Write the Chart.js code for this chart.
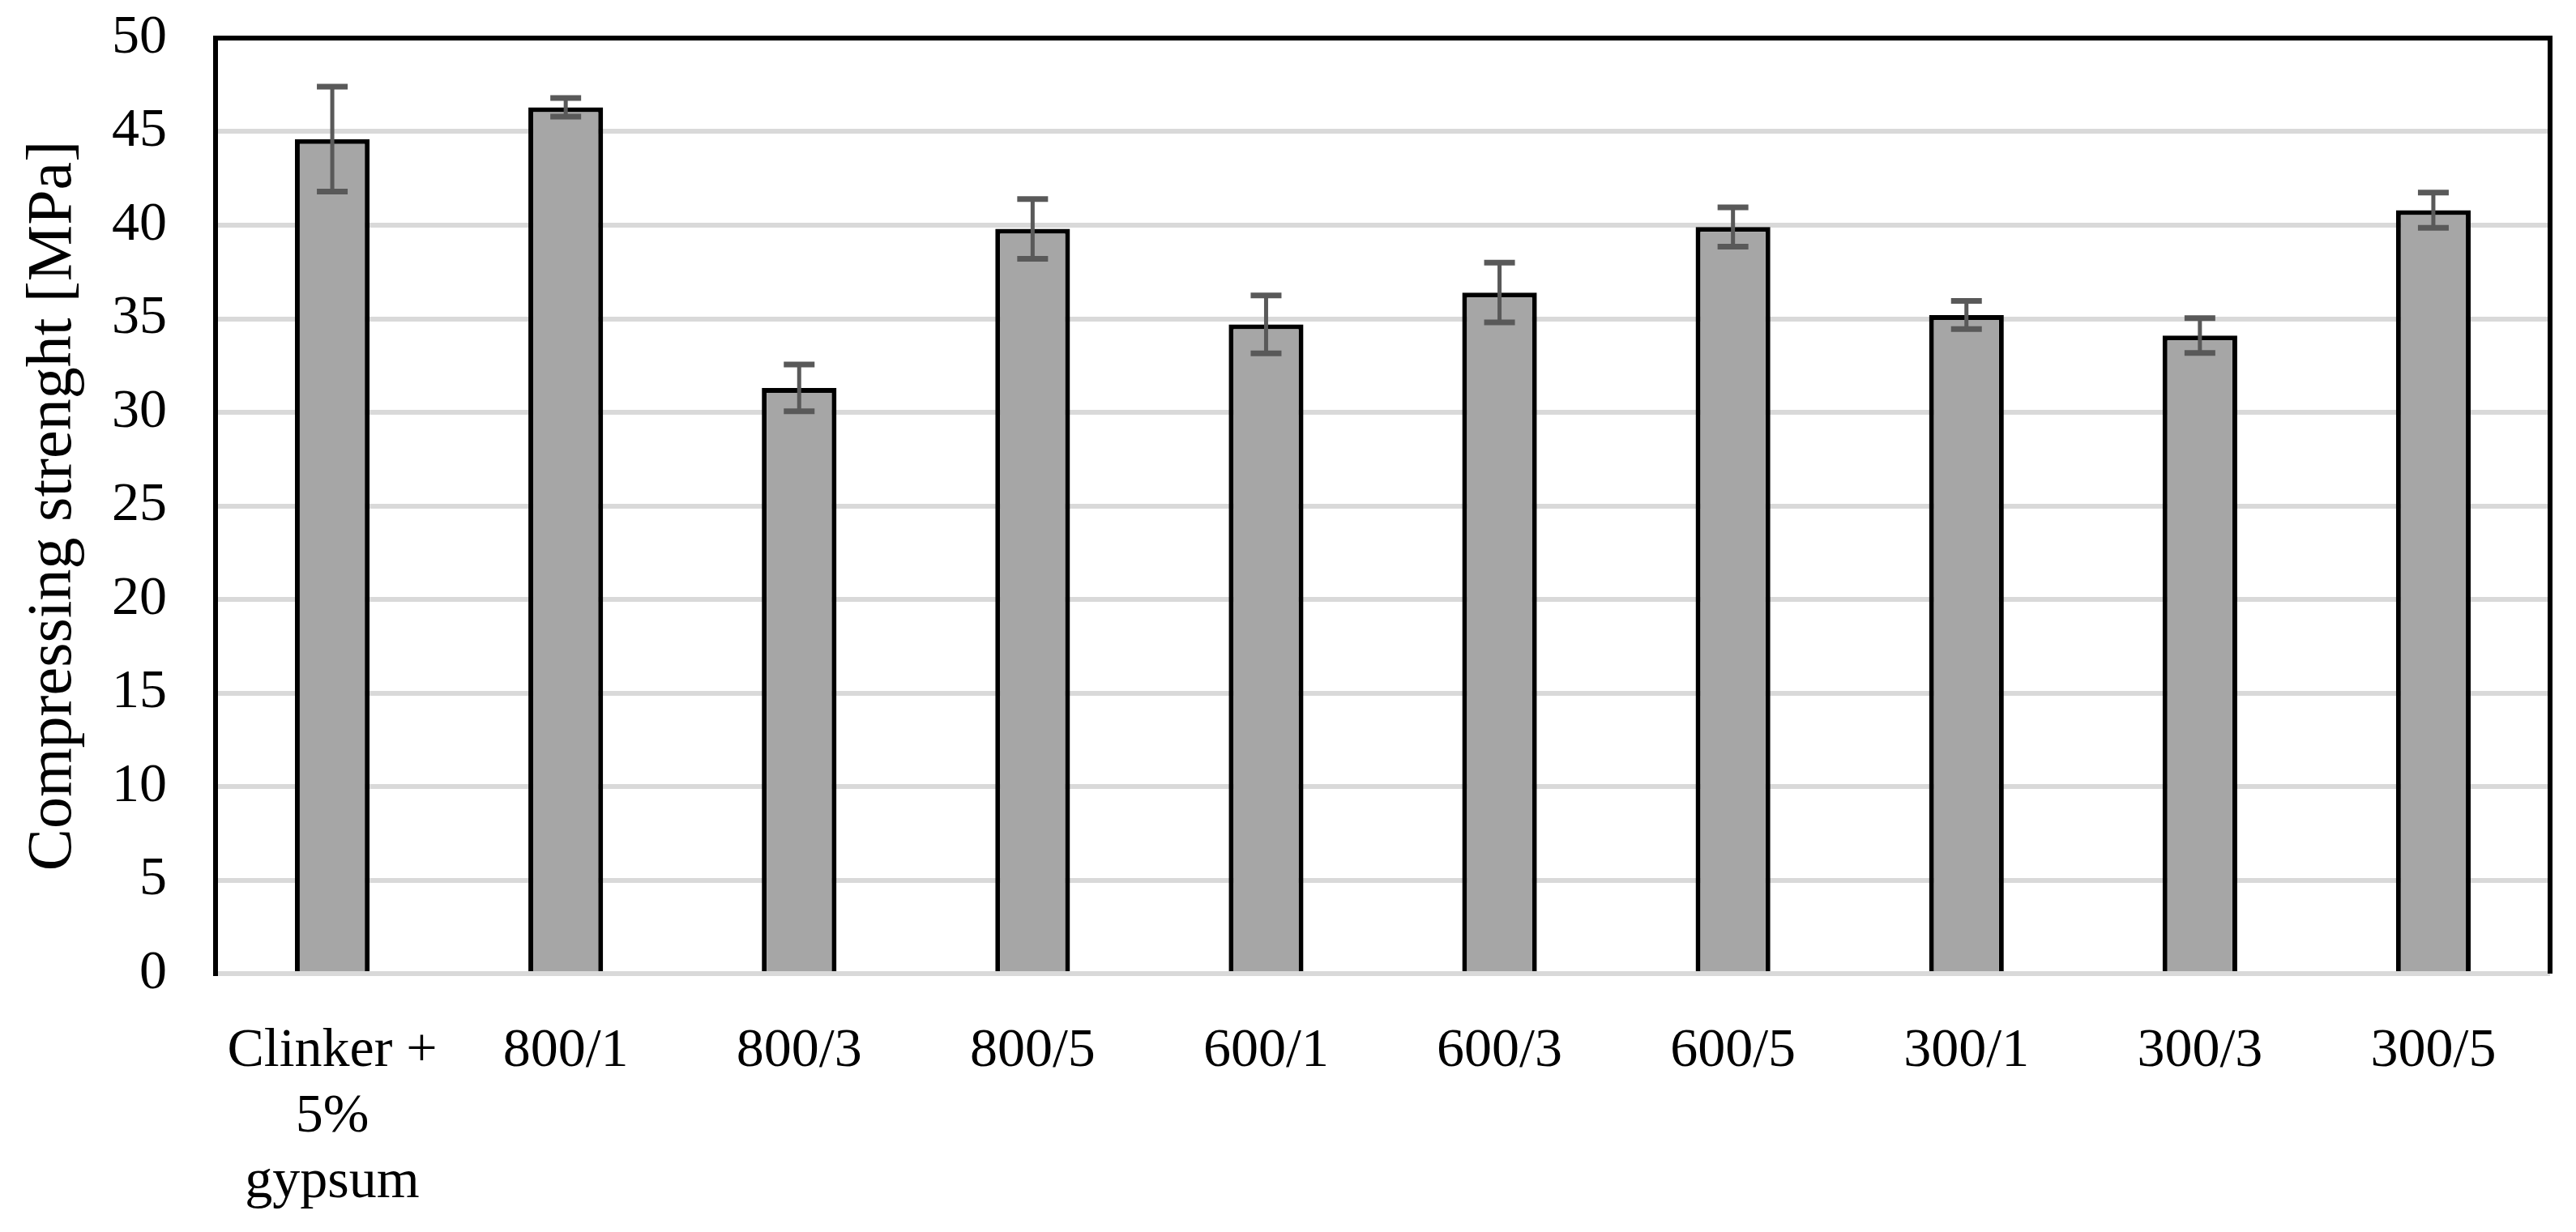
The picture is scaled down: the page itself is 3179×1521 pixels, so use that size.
<!DOCTYPE html>
<html>
<head>
<meta charset="utf-8">
<script src="https://cdn.jsdelivr.net/npm/chart.js@4.4.1/dist/chart.umd.min.js"></script>
<style>
    body { margin: 0; background: #fff; }
    #contenedor { width: 3179px; height: 1521px; position: relative; }
</style>
</head>
<body>
<div id="contenedor"><canvas id="graficoResistencia"></canvas></div>
<script>
// Datos
const categorias = [['Clinker +', '5%', 'gypsum'], '800/1', '800/3', '800/5', '600/1', '600/3', '600/5', '300/1', '300/3', '300/5'];
const resistencia = [44.6, 46.3, 31.3, 39.8, 34.7, 36.4, 39.9, 35.2, 34.1, 40.8];
const desviacion = [2.8, 0.5, 1.25, 1.6, 1.55, 1.6, 1.05, 0.75, 0.93, 0.94];
const ticksY = [0, 5, 10, 15, 20, 25, 30, 35, 40, 45, 50];

const fuente = 'Liberation Serif, Times New Roman, serif';

/**
 * Dibuja las barras de error sobre cada columna
 */
const barrasError = {
    id: 'barrasError',
    afterDatasetsDraw(chart) {
        const ctx = chart.ctx;
        const escalaY = chart.scales.y;
        const meta = chart.getDatasetMeta(0);
        ctx.save();
        ctx.strokeStyle = '#595959';
        meta.data.forEach((barra, i) => {
            const x = barra.x;
            const arriba = escalaY.getPixelForValue(resistencia[i] + desviacion[i]);
            const abajo = escalaY.getPixelForValue(resistencia[i] - desviacion[i]);
            const mitad = 19;
            ctx.lineWidth = 5;
            ctx.beginPath();
            ctx.moveTo(x, arriba);
            ctx.lineTo(x, abajo);
            ctx.stroke();
            ctx.lineWidth = 7;
            ctx.beginPath();
            ctx.moveTo(x - mitad, arriba);
            ctx.lineTo(x + mitad, arriba);
            ctx.moveTo(x - mitad, abajo);
            ctx.lineTo(x + mitad, abajo);
            ctx.stroke();
        });
        ctx.restore();
    }
};

/**
 * Marco negro arriba y a la derecha del area del grafico
 */
const marco = {
    id: 'marco',
    afterDraw(chart) {
        const { left, right, top, bottom } = chart.chartArea;
        const ctx = chart.ctx;
        ctx.save();
        ctx.strokeStyle = '#000';
        ctx.lineWidth = 6;
        ctx.beginPath();
        ctx.moveTo(left - 3, top);
        ctx.lineTo(right, top);
        ctx.lineTo(right, bottom);
        ctx.stroke();
        ctx.restore();
    }
};

const ctx = document.getElementById('graficoResistencia').getContext('2d');
new Chart(ctx, {
    type: 'bar',
    data: {
        labels: categorias,
        datasets: [{
            data: resistencia,
            backgroundColor: '#a6a6a6',
            borderColor: '#000',
            borderWidth: 6,
            barPercentage: 0.32,
            categoryPercentage: 1
        }]
    },
    options: {
        responsive: true,
        maintainAspectRatio: false,
        devicePixelRatio: 1,
        animation: false,
        layout: {
            padding: { left: 0, right: 32, top: 47, bottom: 0 }
        },
        plugins: {
            legend: { display: false },
            tooltip: { enabled: false }
        },
        scales: {
            x: {
                grid: { display: false, drawTicks: false },
                border: { display: false },
                ticks: {
                    color: '#000',
                    padding: 56,
                    maxRotation: 0,
                    autoSkip: false,
                    font: { family: fuente, size: 68, lineHeight: 1.19 }
                },
                afterFit(scale) {
                    scale.height = 319;
                    scale.paddingTop = 0;
                    scale.paddingBottom = 0;
                }
            },
            y: {
                min: 0,
                max: 50,
                afterBuildTicks(scale) {
                    scale.ticks = ticksY.map(v => ({ value: v }));
                },
                grid: { color: '#d9d9d9', lineWidth: 6, drawTicks: false },
                border: { display: true, color: '#000', width: 6 },
                ticks: {
                    color: '#000',
                    padding: 60,
                    font: { family: fuente, size: 68 }
                },
                title: {
                    display: true,
                    text: 'Compressing strenght [MPa]',
                    color: '#000',
                    padding: { top: 20, bottom: 0 },
                    font: { family: fuente, size: 78 }
                },
                afterFit(scale) {
                    scale.width = 266;
                    scale.paddingTop = 0;
                    scale.paddingBottom = 0;
                }
            }
        }
    },
    plugins: [barrasError, marco]
});
</script>
</body>
</html>
